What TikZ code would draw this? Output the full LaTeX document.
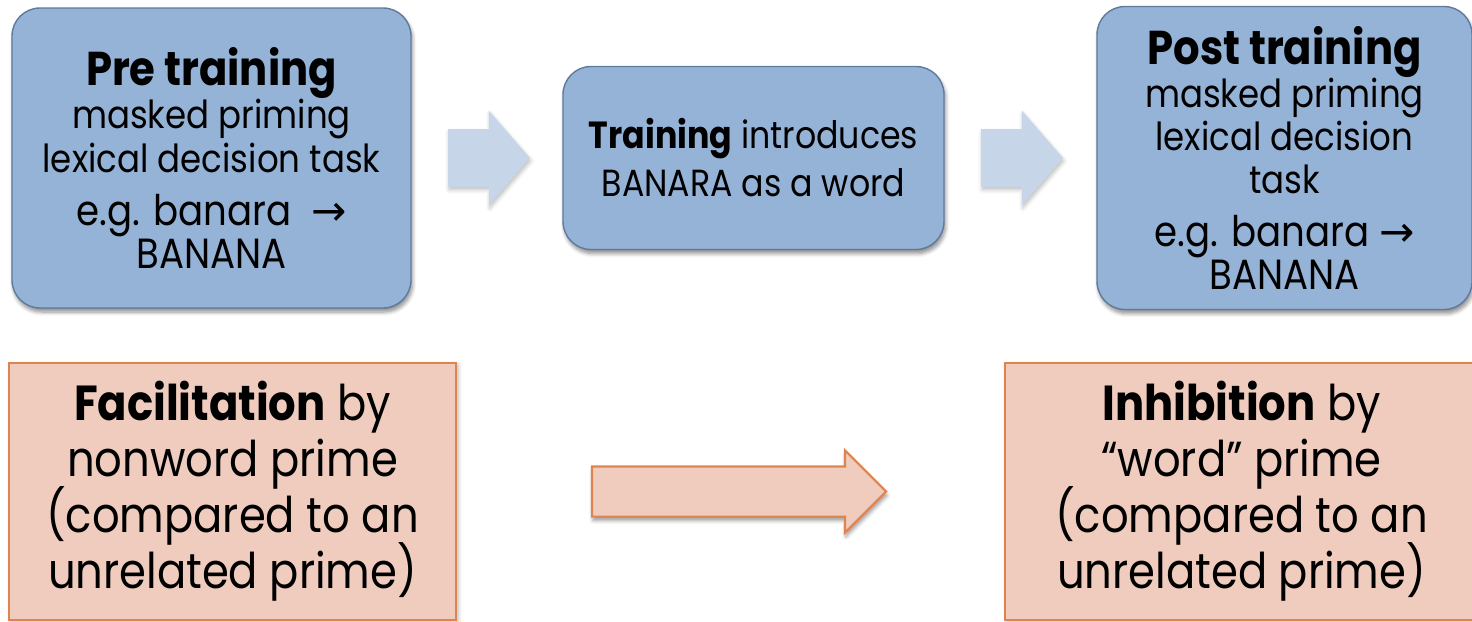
\documentclass[tikz,border=0pt]{standalone}
\usepackage{fontspec}
\setmainfont{Poppins}[FakeStretch=0.88]
\newfontfamily\symfont{DejaVu Sans}
\usetikzlibrary{positioning, shapes.arrows, shadows.blur}

\definecolor{stagefill}{HTML}{95B3D7}
\definecolor{stageline}{HTML}{5F7A9C}
\definecolor{steparrow}{HTML}{C6D6E8}
\definecolor{effectfill}{HTML}{F0CCBE}
\definecolor{effectline}{HTML}{E0844F}

\newcommand{\bodyfont}{\fontsize{22}{24.5}\selectfont\lineskiplimit=-20pt\relax}
\newcommand{\trainfont}{\fontsize{21.5}{27.3}\selectfont\lineskiplimit=-20pt\relax}
\newcommand{\effectfont}{\fontsize{28}{31.8}\selectfont\lineskiplimit=-20pt\relax}
\newcommand{\headsize}{\fontsize{27}{24}\selectfont\bfseries}
\newcommand{\egsize}{\fontsize{24}{25.6}\selectfont}
\newcommand{\toarrow}{{\symfont\fontsize{24}{24}\selectfont →}}

\begin{document}
\begin{tikzpicture}[font=\bodyfont]

% Styles
        \tikzstyle{stage}=[rectangle, draw=stageline, line width=0.8pt, fill=stagefill, rounded corners=0.56cm, inner sep=0pt, outer sep=0pt, align=center, blur shadow={shadow xshift=0.03cm, shadow yshift=-0.08cm, shadow blur steps=6, shadow opacity=45}]
        \tikzstyle{stagearrow}=[single arrow, fill=steparrow, minimum width=1.88cm, minimum height=1.64cm, single arrow head extend=0.37cm, single arrow tip angle=98, inner xsep=0pt, inner ysep=0.57cm, outer sep=0pt, blur shadow={shadow xshift=0.02cm, shadow yshift=-0.06cm, shadow opacity=25}]
        \tikzstyle{effect}=[rectangle, draw=effectline, line width=1.2pt, fill=effectfill, inner sep=0pt, outer sep=0pt, align=center, font=\effectfont, blur shadow={shadow xshift=0.04cm, shadow yshift=-0.04cm, shadow opacity=30}]
        \tikzstyle{effectarrow}=[single arrow, draw=effectline, line width=1.2pt, fill=effectfill, minimum width=1.6cm, minimum height=5.88cm, single arrow head extend=0.32cm, single arrow tip angle=90, inner xsep=0pt, inner ysep=0.48cm, outer sep=0pt, blur shadow={shadow xshift=0.02cm, shadow yshift=-0.08cm, shadow opacity=40}]

        \useasboundingbox (0,0) rectangle (29.44,-12.44);

% Nodes
% Pre training
        \node[stage, minimum width=7.98cm, minimum height=6cm] (pre) at (4.23,-3.16) {{\headsize Pre training}\\ masked priming\\ lexical decision task\\[0.2cm] {\egsize e.g. banara\ \ \toarrow}\\ {\egsize BANANA}};

% Arrow 1
        \node[stagearrow, right=0.74cm of pre] (step1) {};

% Training
        \node[stage, minimum width=7.62cm, minimum height=3.66cm, right=0.66cm of step1, font=\trainfont] (train) {\textbf{Training} introduces\\ BANARA as a word};

% Arrow 2
        \node[stagearrow, right=0.74cm of train] (step2) {};

% Post training
        \node[stage, minimum width=7.5cm, minimum height=6.06cm, right=0.68cm of step2] (post) {{\headsize Post training}\\ masked priming\\ lexical decision\\ task\\[0.2cm] {\egsize e.g. banara \toarrow}\\ {\egsize BANANA}};

% Facilitation
        \node[effect, minimum width=8.94cm, minimum height=5.14cm, below=1.1cm of pre, xshift=0.42cm] (facil) {\textbf{Facilitation} by\\ nonword prime\\ (compared to an\\ unrelated prime)};

% Effect arrow
        \node[effectarrow, right=2.72cm of facil] (change) {};

% Inhibition
        \node[effect, minimum width=9.46cm, minimum height=5.14cm, right=2.38cm of change] (inhib) {\textbf{Inhibition} by\\ “word” prime\\ (compared to an\\ unrelated prime)};

    \end{tikzpicture}
\end{document}
